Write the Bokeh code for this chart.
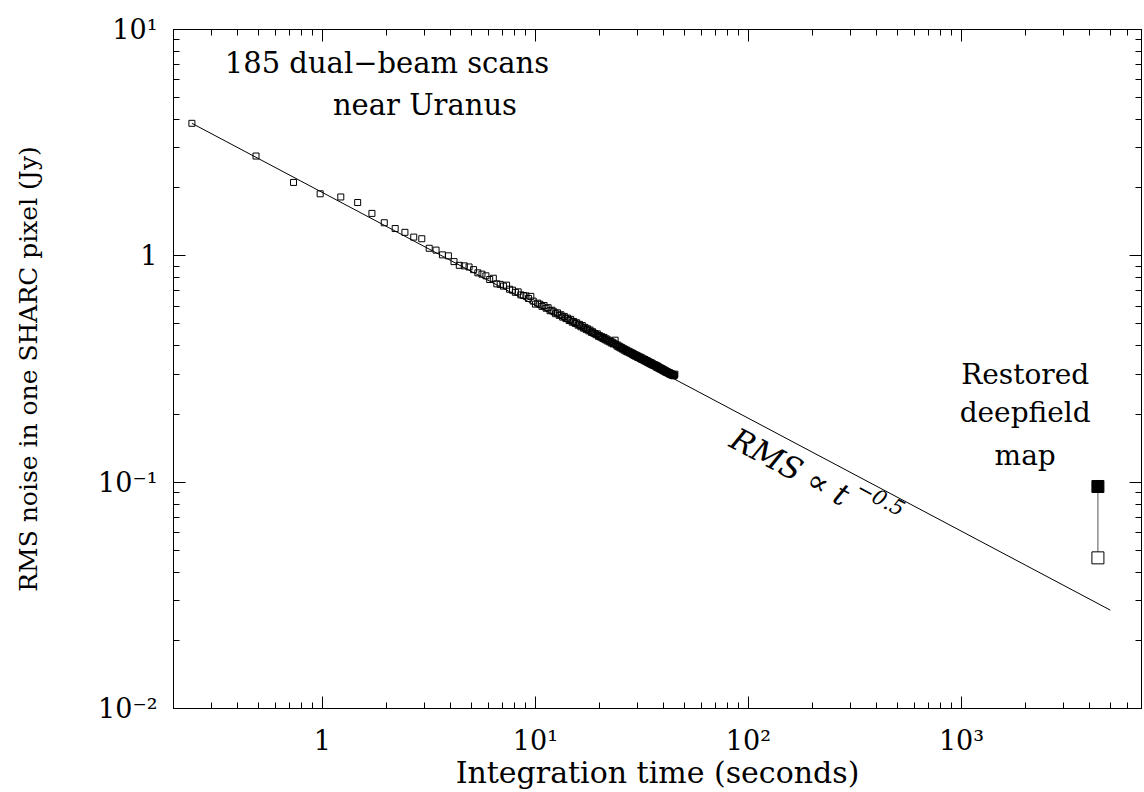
from bokeh.plotting import figure
from bokeh.models import LogAxis, FixedTicker, Label, CustomJSTickFormatter
from bokeh.embed import file_html
from bokeh.resources import INLINE

# ---- data ----
scan_time = 0.244          # seconds per dual-beam scan
n_scans = list(range(1, 186))
t = [scan_time * n for n in n_scans]

rms = [
    3.85, 2.76, 2.11, 1.88, 1.82, 1.72, 1.54, 1.40, 1.32, 1.27,
    1.21, 1.19, 1.08, 1.06, 1.01, 1.00, 0.943, 0.908, 0.903, 0.893,
    0.869, 0.841, 0.830, 0.816, 0.786, 0.796, 0.752, 0.748, 0.735, 0.742,
    0.712, 0.705, 0.690, 0.693, 0.672, 0.668, 0.665, 0.648, 0.662, 0.631,
    0.612, 0.618, 0.611, 0.598, 0.603, 0.587, 0.590, 0.572, 0.575, 0.566,
    0.555, 0.560, 0.546, 0.549, 0.536, 0.540, 0.528, 0.531, 0.518, 0.524,
    0.509, 0.513, 0.503, 0.506, 0.494, 0.498, 0.486, 0.492, 0.479, 0.483,
    0.472, 0.476, 0.466, 0.470, 0.459, 0.462, 0.455, 0.453, 0.448, 0.452,
    0.441, 0.444, 0.437, 0.439, 0.431, 0.436, 0.426, 0.430, 0.421, 0.425,
    0.417, 0.420, 0.412, 0.416, 0.408, 0.411, 0.424, 0.405, 0.399, 0.403,
    0.395, 0.398, 0.391, 0.394, 0.387, 0.390, 0.383, 0.386, 0.379, 0.383,
    0.376, 0.379, 0.373, 0.376, 0.370, 0.373, 0.366, 0.370, 0.363, 0.366,
    0.360, 0.364, 0.357, 0.361, 0.355, 0.358, 0.352, 0.356, 0.349, 0.353,
    0.347, 0.350, 0.344, 0.348, 0.342, 0.345, 0.339, 0.343, 0.337, 0.340,
    0.334, 0.338, 0.332, 0.336, 0.330, 0.333, 0.328, 0.331, 0.326, 0.329,
    0.323, 0.327, 0.321, 0.325, 0.319, 0.322, 0.317, 0.320, 0.315, 0.318,
    0.313, 0.316, 0.311, 0.314, 0.309, 0.312, 0.307, 0.310, 0.305, 0.308,
    0.304, 0.306, 0.302, 0.305, 0.300, 0.303, 0.299, 0.301, 0.297, 0.300,
    0.296, 0.298, 0.295, 0.297, 0.300,
]

fit_t = [0.244, 5000.0]
fit_rms = [3.85, 0.0272]

deep_t = [4370.0]
deep_restored = [0.0957]
deep_open = [0.0463]

x_major = [1, 10, 100, 1000]
y_major = [0.01, 0.1, 1, 10]
x_minor = [m * 10.0 ** k for k in (-1, 0, 1, 2, 3) for m in range(2, 10) if m * 10.0 ** k <= 7000]
y_minor = [m * 10.0 ** k for k in (-2, -1, 0) for m in range(2, 10)]

FONT = "DejaVu Serif"
FS = "27px"

p = figure(width=1144, height=792, x_axis_type="log", y_axis_type="log",
           x_range=(0.2, 7000), y_range=(0.01, 10),
           output_backend="svg", toolbar_location=None,
           min_border_left=173, min_border_right=3, min_border_top=29, min_border_bottom=81)
p.grid.visible = False
p.outline_line_color = "black"
p.background_fill_color = "white"
p.border_fill_color = "white"

fmt_code = """
const e = Math.round(Math.log10(tick));
if (e == 0) return "1";
const sup = {"-":"\u207b","0":"\u2070","1":"\u00b9","2":"\u00b2","3":"\u00b3"};
return "10" + String(e).split("").map(c => sup[c]).join("");
"""

xt = FixedTicker(ticks=x_major, minor_ticks=x_minor)
yt = FixedTicker(ticks=y_major, minor_ticks=y_minor)


def style(ax, labels=True):
    ax.major_tick_in = 12
    ax.major_tick_out = 0
    ax.minor_tick_in = 6
    ax.minor_tick_out = 0
    ax.axis_line_color = "black"
    ax.major_tick_line_color = "black"
    ax.minor_tick_line_color = "black"
    ax.major_label_text_font = FONT
    ax.axis_label_text_font = FONT
    ax.axis_label_text_font_style = "normal"
    ax.axis_label_text_color = "black"
    if labels:
        ax.major_label_text_font_size = FS
        ax.major_label_text_color = "black"
        ax.formatter = CustomJSTickFormatter(code=fmt_code)
    else:
        ax.major_label_text_font_size = "1px"
        ax.major_label_text_color = None
        ax.major_label_standoff = 0


xa = p.xaxis[0]
xa.ticker = xt
style(xa)
xa.major_label_standoff = 16
xa.axis_label = "Integration time (seconds)"
xa.axis_label_text_font_size = "30px"
xa.axis_label_standoff = -4

ya = p.yaxis[0]
ya.ticker = yt
style(ya)
ya.major_label_standoff = 16
ya.axis_label = "RMS noise in one SHARC pixel (Jy)"
ya.axis_label_text_font_size = "25px"
ya.axis_label_standoff = 52

top = LogAxis(ticker=xt)
style(top, labels=False)
p.add_layout(top, "above")
right = LogAxis(ticker=yt)
style(right, labels=False)
p.add_layout(right, "right")

# fit line and scans
p.line(fit_t, fit_rms, line_color="black", line_width=1)
p.scatter(t, rms, marker="square", size=6, fill_alpha=0, line_color="black", line_width=1)

# restored deepfield map
p.segment(x0=deep_t, y0=deep_restored, x1=deep_t, y1=deep_open, line_color="#555555", line_width=1)
p.scatter(deep_t, deep_restored, marker="square", size=12, fill_color="black", line_color="black")
p.scatter(deep_t, deep_open, marker="square", size=12, fill_color="white", line_color="black", line_width=1)

def lab(x, y, text, size=FS, style="normal", angle=0, align="center", baseline="alphabetic"):
    p.add_layout(Label(x=x, y=y, text=text, text_font=FONT, text_font_size=size,
                       text_font_style=style, text_align=align, text_baseline=baseline,
                       angle=angle, angle_units="deg", text_color="black"))

lab(2.01, 7.1, "185 dual\u2212beam scans", size="29px")
lab(3.03, 4.65, "near Uranus", size="29px")
lab(1991, 0.300, "Restored", size="28px")
lab(1991, 0.204, "deepfield", size="28px")
lab(1991, 0.131, "map", size="28px")
lab(157, 0.117, "RMS \u221d t", size="31px", style="italic", angle=-28, baseline="middle")
lab(418, 0.0850, "\u22120.5", size="21px", style="italic", angle=-28, baseline="middle")

open("out.html", "w").write(file_html(p, INLINE))
